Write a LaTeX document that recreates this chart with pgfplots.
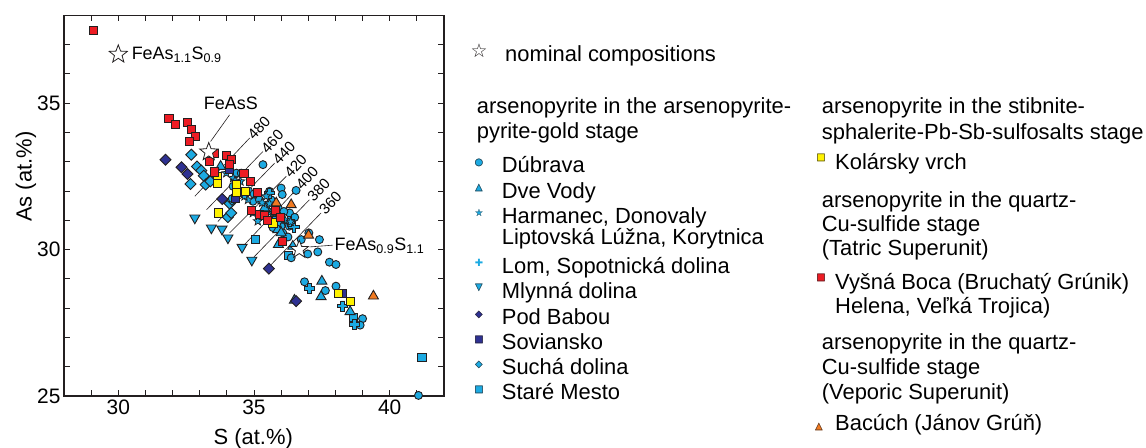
\documentclass[border=0pt]{standalone}
\usepackage{fontspec}
\setmainfont{Liberation Sans}
\newfontfamily\dejavu{DejaVu Sans}
\usepackage{pgfplots}
\pgfplotsset{compat=1.18}
\definecolor{cy}{RGB}{28,170,226}
\definecolor{nv}{RGB}{46,49,146}
\definecolor{rd}{RGB}{237,28,36}
\definecolor{yl}{RGB}{255,242,0}
\definecolor{og}{RGB}{242,122,32}
\definecolor{ed}{RGB}{35,31,32}
\pgfdeclareplotmark{fstar}{%
  \pgfpathmoveto{\pgfpointpolar{90}{\pgfplotmarksize}}%
  \pgfpathlineto{\pgfpointpolar{126}{0.42*\pgfplotmarksize}}%
  \pgfpathlineto{\pgfpointpolar{162}{\pgfplotmarksize}}%
  \pgfpathlineto{\pgfpointpolar{198}{0.42*\pgfplotmarksize}}%
  \pgfpathlineto{\pgfpointpolar{234}{\pgfplotmarksize}}%
  \pgfpathlineto{\pgfpointpolar{270}{0.42*\pgfplotmarksize}}%
  \pgfpathlineto{\pgfpointpolar{306}{\pgfplotmarksize}}%
  \pgfpathlineto{\pgfpointpolar{342}{0.42*\pgfplotmarksize}}%
  \pgfpathlineto{\pgfpointpolar{18}{\pgfplotmarksize}}%
  \pgfpathlineto{\pgfpointpolar{54}{0.42*\pgfplotmarksize}}%
  \pgfpathclose
  \pgfusepathqfillstroke
}
\pgfdeclareplotmark{fplus}{%
  \pgfpathmoveto{\pgfpoint{-0.36*\pgfplotmarksize}{\pgfplotmarksize}}%
  \pgfpathlineto{\pgfpoint{0.36*\pgfplotmarksize}{\pgfplotmarksize}}%
  \pgfpathlineto{\pgfpoint{0.36*\pgfplotmarksize}{0.36*\pgfplotmarksize}}%
  \pgfpathlineto{\pgfpoint{\pgfplotmarksize}{0.36*\pgfplotmarksize}}%
  \pgfpathlineto{\pgfpoint{\pgfplotmarksize}{-0.36*\pgfplotmarksize}}%
  \pgfpathlineto{\pgfpoint{0.36*\pgfplotmarksize}{-0.36*\pgfplotmarksize}}%
  \pgfpathlineto{\pgfpoint{0.36*\pgfplotmarksize}{-\pgfplotmarksize}}%
  \pgfpathlineto{\pgfpoint{-0.36*\pgfplotmarksize}{-\pgfplotmarksize}}%
  \pgfpathlineto{\pgfpoint{-0.36*\pgfplotmarksize}{-0.36*\pgfplotmarksize}}%
  \pgfpathlineto{\pgfpoint{-\pgfplotmarksize}{-0.36*\pgfplotmarksize}}%
  \pgfpathlineto{\pgfpoint{-\pgfplotmarksize}{0.36*\pgfplotmarksize}}%
  \pgfpathlineto{\pgfpoint{-0.36*\pgfplotmarksize}{0.36*\pgfplotmarksize}}%
  \pgfpathclose
  \pgfusepathqfillstroke
}
\newcommand\LT[3]{\node[anchor=base west,inner sep=0pt,font=\fontsize{22}{22}\selectfont] at (#1bp,#2bp) {#3};}
\newcommand\LG[5]{%
  \node[inner sep=0pt,text=#3,font=\dejavu\fontsize{10}{10}\selectfont] at (#1bp,#2bp) {#4};
  \node[inner sep=0pt,text=ed,font=\dejavu\fontsize{10}{10}\selectfont] at (#1bp,#2bp) {#5};}
\begin{document}
\begin{tikzpicture}
\path[use as bounding box] (0,0) rectangle (1146bp,448bp);
\begin{axis}[
  at={(64bp,52bp)}, anchor=south west,
  scale only axis, width=380bp, height=380.7bp,
  xmin=28, xmax=42, ymin=25, ymax=38,
  xtick={30,35,40}, ytick={25,30,35},
  minor xtick={28,29,...,42}, minor ytick={25,26,...,38},
  tick align=inside,
  major tick length=6bp, minor tick length=6bp,
  tick style={ed, line width=0.8bp},
  axis line style={ed, line width=1.2bp},
  tick label style={font=\fontsize{21}{21}\selectfont},
  /pgf/number format/assume math mode=true,
  xlabel={S (at.\%)}, ylabel={As (at.\%)},
  every axis x label/.style={at={(axis description cs:0.498,-0.127)}, anchor=base, font=\fontsize{22}{22}\selectfont},
  every axis y label/.style={at={(axis description cs:-0.085,0.576)}, rotate=90, anchor=base, font=\fontsize{22}{22}\selectfont},
  clip=false,
]
% isotherms
\addplot[ed, line width=0.6bp] coordinates {(32.82,31.82)(34.84,33.81)};
\addplot[ed, line width=0.6bp] coordinates {(33.25,31.36)(35.33,33.35)};
\addplot[ed, line width=0.6bp] coordinates {(33.67,30.96)(35.76,32.95)};
\addplot[ed, line width=0.6bp] coordinates {(34.10,30.57)(36.19,32.50)};
\addplot[ed, line width=0.6bp] coordinates {(34.59,30.11)(36.61,32.10)};
\addplot[ed, line width=0.6bp] coordinates {(34.96,29.71)(37.04,31.70)};
\addplot[ed, line width=0.6bp] coordinates {(35.51,29.37)(37.47,31.25)};
\addplot[ed, line width=0.6bp] coordinates {(33.40,33.69)(34.10,34.60)};
\addplot[ed, line width=0.6bp] coordinates {(37.04,30.09)(37.90,30.15)};
\begin{scope}[every node/.style={rotate=47, anchor=west, inner sep=1bp, font=\fontsize{15}{15}\selectfont}]
\node at (axis cs:34.84,33.81) {480};
\node at (axis cs:35.33,33.35) {460};
\node at (axis cs:35.76,32.95) {440};
\node at (axis cs:36.19,32.50) {420};
\node at (axis cs:36.61,32.10) {400};
\node at (axis cs:37.04,31.70) {380};
\node at (axis cs:37.47,31.25) {360};
\end{scope}
% Sucha dolina
\addplot[only marks, mark=square*, mark size=3.9bp, mark options={rotate=45, fill=cy, draw=ed, line width=0.9bp}] coordinates {
(32.69,33.24)(32.90,32.84)(33.06,32.70)(33.15,32.52)(32.66,32.24)(33.22,32.22)(33.39,32.33)(34.10,31.57)(34.19,31.70)(34.04,31.11)(34.16,31.25)};
% Mlynna dolina
\addplot[only marks, mark=triangle*, mark size=5.8bp, mark options={rotate=180, fill=cy, draw=ed, line width=0.9bp}] coordinates {
(32.82,31.08)(33.43,30.74)(33.82,30.70)(34.04,30.40)(34.56,30.08)(34.92,29.64)};
% Stare Mesto
\addplot[only marks, mark=square*, mark size=4.1bp, mark options={fill=cy, draw=ed, line width=0.9bp}] coordinates {
(35.06,30.34)(36.28,29.80)(38.66,27.69)(41.19,26.33)};
% Dubrava
\addplot[only marks, mark=*, mark size=4.0bp, mark options={fill=cy, draw=ed, line width=0.9bp}] coordinates {
(34.35,32.61)(35.33,32.90)(36.00,32.10)(36.04,31.88)(36.55,32.02)(35.57,31.99)(35.63,31.70)(35.45,31.50)
(35.82,31.08)(36.19,30.93)(36.43,31.11)(36.31,31.25)(36.00,30.80)(35.33,31.16)(34.96,31.65)(34.65,31.88)
(34.23,32.16)(34.20,31.74)(34.53,32.61)(36.74,30.34)(37.02,30.57)(37.41,30.34)(36.98,29.85)(37.35,29.92)
(37.78,29.57)(38.02,29.49)(36.37,29.72)(36.86,28.90)(37.63,28.60)(38.02,28.75)(39.00,27.64)(38.91,27.42)
(41.06,25.02)(36.06,30.57)(36.25,30.43)
(34.80,32.00)(35.00,31.90)(35.20,31.70)(35.90,31.40)(36.10,31.30)(36.30,30.80)(36.50,31.10)(35.70,30.75)(35.50,31.30)(34.45,31.95)};
% Dve Vody
\addplot[only marks, mark=triangle*, mark size=5.8bp, mark options={fill=cy, draw=ed, line width=0.9bp}] coordinates {
(33.77,32.84)(35.88,30.68)(35.90,30.17)(36.43,30.11)(36.49,28.27)(37.50,28.92)(37.47,28.39)(38.54,27.88)(35.39,31.42)(36.00,30.57)};
% Lom
\addplot[only marks, mark=fplus, mark size=5.1bp, mark options={fill=cy, draw=ed, line width=0.9bp}] coordinates {
(35.57,31.93)(36.47,30.77)(36.31,30.97)(37.04,28.67)(38.27,28.07)(38.70,27.44)(35.88,31.08)};
% Harmanec
\addplot[only marks, mark=fstar, mark size=4.7bp, mark options={fill=cy, draw=ed, line width=0.7bp}] coordinates {
(33.98,32.61)(34.23,32.44)(34.50,32.33)(34.78,31.70)(34.65,31.82)(35.14,30.97)(35.45,31.82)(35.70,31.25)(35.57,31.57)(36.13,31.02)(34.96,31.25)
(34.30,32.35)(35.30,31.60)(35.90,30.90)(36.35,30.95)};
% Pod Babou
\addplot[only marks, mark=square*, mark size=3.9bp, mark options={rotate=45, fill=nv, draw=ed, line width=0.9bp}] coordinates {
(31.74,33.07)(32.33,32.81)(32.55,32.58)(33.83,31.73)(35.55,29.35)(36.55,28.24)};
% Soviansko
\addplot[only marks, mark=square*, mark size=4.1bp, mark options={fill=nv, draw=ed, line width=0.9bp}] coordinates {
(34.32,31.74)(34.10,32.73)(38.25,28.49)};
% Kolarsky vrch
\addplot[only marks, mark=square*, mark size=4.1bp, mark options={fill=yl, draw=ed, line width=0.9bp}] coordinates {
(33.64,32.50)(33.64,32.27)(34.35,32.22)(34.35,31.95)(34.69,31.99)(33.70,31.25)(35.70,30.91)(38.12,28.49)(38.55,28.22)};
% Vysna Boca
\addplot[only marks, mark=square*, mark size=4.1bp, mark options={fill=rd, draw=ed, line width=0.9bp}] coordinates {
(29.08,37.47)(31.87,34.47)(32.12,34.26)(32.55,34.34)(32.69,34.09)(32.85,33.86)(32.63,33.69)(33.53,33.27)
(33.37,33.01)(33.98,33.22)(34.16,33.09)(34.10,32.92)(33.55,32.65)(34.63,32.61)(34.86,32.33)(35.12,31.95)
(34.90,31.34)(35.21,31.19)(35.39,31.16)(35.51,30.99)(35.79,31.33)(35.98,31.11)(36.06,30.28)};
% Bacuch
\addplot[only marks, mark=triangle*, mark size=5.8bp, mark options={fill=og, draw=ed, line width=0.9bp}] coordinates {
(35.82,31.59)(36.37,31.53)(37.01,30.49)(39.40,28.41)};
% nominal compositions
\addplot[only marks, mark=fstar, mark size=9.5bp, mark options={fill=white, draw=ed, line width=0.8bp}] coordinates {
(30,36.667)(33.333,33.333)(36.667,30)};
\node[anchor=base west, inner sep=0pt, font=\fontsize{18}{18}\selectfont] at (axis cs:30.49,36.48) {FeAs\textsubscript{1.1}S\textsubscript{0.9}};
\node[anchor=base west, inner sep=0pt, font=\fontsize{18}{18}\selectfont] at (axis cs:33.15,34.77) {FeAsS};
\node[anchor=base west, inner sep=0pt, font=\fontsize{18}{18}\selectfont] at (axis cs:37.96,29.97) {FeAs\textsubscript{0.9}S\textsubscript{1.1}};
\end{axis}
% legend
\node[inner sep=0pt,text=ed,font=\dejavu\fontsize{19}{19}\selectfont] at (479bp,397bp) {☆};
\LT{505}{386}{nominal compositions}
\LT{476.7}{334}{arsenopyrite in the arsenopyrite-}
\LT{476.7}{309}{pyrite-gold stage}
\LT{501.7}{275.3}{Dúbrava}
\LT{501.7}{249.7}{Dve Vody}
\LT{501.7}{224.7}{Harmanec, Donovaly}
\LT{501.7}{203}{Liptovská Lúžna, Korytnica}
\LT{501.7}{174.7}{Lom, Sopotnická dolina}
\LT{501.7}{149.7}{Mlynná dolina}
\LT{501.7}{123}{Pod Babou}
\LT{501.7}{98}{Soviansko}
\LT{501.7}{73}{Suchá dolina}
\LT{501.7}{48}{Staré Mesto}
\LG{479}{285.3}{cy}{●}{○}
\LG{479}{259.7}{cy}{▲}{△}
\LG{479}{234.7}{cy}{★}{☆}
\LG{479}{184.7}{cy}{✚}{}
\LG{479}{159.7}{cy}{▼}{▽}
\LG{479}{133}{nv}{◆}{◇}
\LG{479}{108}{nv}{■}{□}
\LG{479}{83}{cy}{◆}{◇}
\LG{479}{58}{cy}{■}{□}
\LT{821.7}{334}{arsenopyrite in the stibnite-}
\LT{821.7}{308.7}{sphalerite-Pb-Sb-sulfosalts stage}
\LT{835}{278}{Kolársky vrch}
\LG{821}{289.7}{yl}{■}{□}
\LT{821.7}{240.7}{arsenopyrite in the quartz-}
\LT{821.7}{216.3}{Cu-sulfide stage}
\LT{821.7}{192.3}{(Tatric Superunit)}
\LT{835}{158.7}{Vyšná Boca (Bruchatý Grúnik)}
\LT{835}{134}{Helena, Veľká Trojica)}
\LG{821}{169.7}{rd}{■}{□}
\LT{821.7}{98}{arsenopyrite in the quartz-}
\LT{821.7}{73}{Cu-sulfide stage}
\LT{821.7}{48.7}{(Veporic Superunit)}
\LT{835}{18}{Bacúch (Jánov Grúň)}
\LG{819}{21.3}{og}{▲}{△}
\end{tikzpicture}
\end{document}
